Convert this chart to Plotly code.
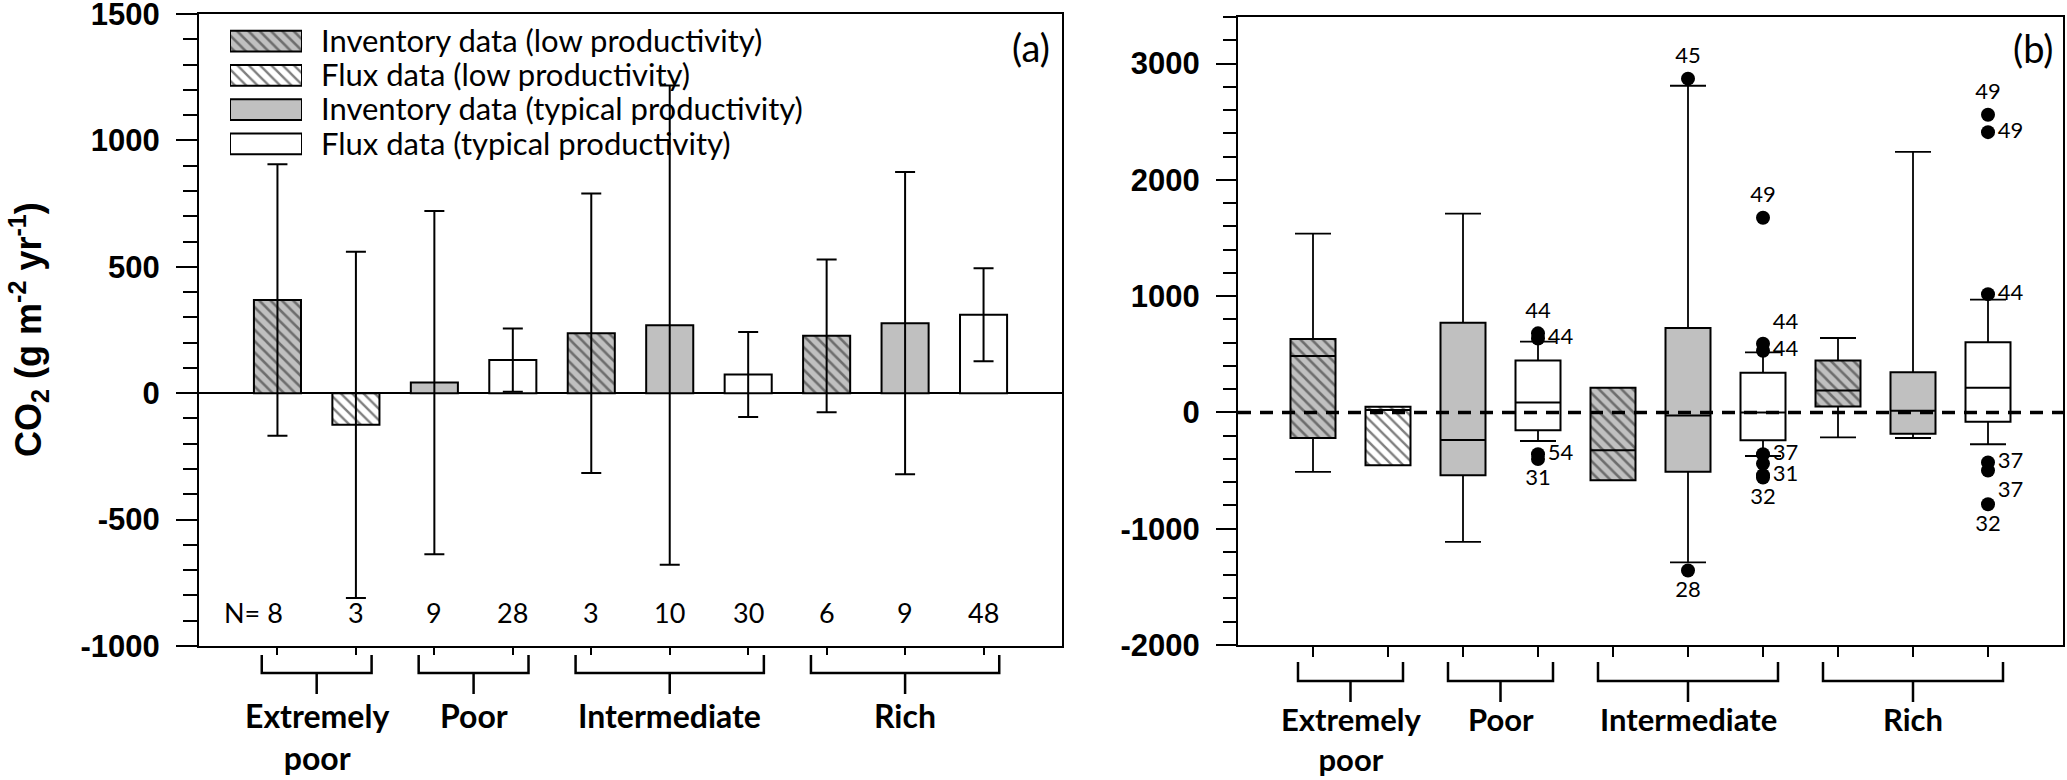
import plotly.graph_objects as go

# ---------------- data ----------------
bar_group = ["Extremely poor", "Extremely poor", "Poor", "Poor",
             "Intermediate", "Intermediate", "Intermediate", "Rich", "Rich", "Rich"]
group_names = ["Extremely poor", "Poor", "Intermediate", "Rich"]
group_labels = ["Extremely<br>poor", "Poor", "Intermediate", "Rich"]
bar_series = ["inv_low", "flux_low", "inv_typ", "flux_typ", "inv_low",
              "inv_typ", "flux_typ", "inv_low", "inv_typ", "flux_typ"]
series_keys = ["inv_low", "flux_low", "inv_typ", "flux_typ"]
series_names = ["Inventory data (low productivity)", "Flux data (low productivity)",
                "Inventory data (typical productivity)", "Flux data (typical productivity)"]

# panel (a): mean and SD
mean_co2 = [369, -125, 42, 131, 237, 269, 74, 227, 277, 310]
sd_co2 = [537, 685, 679, 125, 553, 948, 168, 302, 598, 184]
n_obs = [8, 3, 9, 28, 3, 10, 30, 6, 9, 48]

# panel (b): box plot statistics
box_q1 = [-220, -454, -540, -154, -583, -511, -240, 51, -183, -80]
box_med = [486, 20, -237, 86, -326, -26, 0, 189, 15, 211]
box_q3 = [631, 49, 771, 446, 211, 726, 340, 446, 346, 603]
box_low = [-511, None, -1114, -246, None, -1289, -375, -214, -220, -274]
box_high = [1537, None, 1709, 609, None, 2809, 517, 640, 2240, 969]

# outliers (bar number, value, case label)
out_bar = [4, 4, 4, 4, 6, 6, 7, 7, 7, 7, 7, 7, 7, 10, 10, 10, 10, 10, 10]
out_val = [680, 635, -360, -400, 2870, -1360, 1674, 590, 530, -360, -440, -540, -560,
           2560, 2410, 1017, -430, -500, -790]
out_lab = ["44", "44", "54", "31", "45", "28", "49", "44", "44", "37", "", "31", "32",
           "49", "49", "44", "37", "37", "32"]
out_textpos = ["top center", "middle right", "middle right", "bottom center",
               "top center", "bottom center", "top center", "top right", "middle right",
               "middle right", "middle right", "middle right", "bottom center",
               "top center", "middle right", "middle right", "middle right",
               "bottom right", "bottom center"]

yticks_a = [-1000, -500, 0, 500, 1000, 1500]
yticks_b = [-2000, -1000, 0, 1000, 2000, 3000]

# ---------------- styles ----------------
W, H = 2067, 780
pos = list(range(1, len(mean_co2) + 1))
GREY = "#c0c0c0"
style = {
    "inv_low": dict(color=GREY, pattern=dict(shape="\\", fgcolor="#1a1a1a", size=8,
                                             solidity=0.32, fillmode="overlay")),
    "flux_low": dict(color="white", pattern=dict(shape="\\", fgcolor="#000000", size=8,
                                                 solidity=0.3, fillmode="overlay")),
    "inv_typ": dict(color=GREY),
    "flux_typ": dict(color="white"),
}
LAT = "Lato"
ARB = "Liberation Sans"
BW = 0.6

fig = go.Figure()

# ---------------- panel (a) ----------------
for key in series_keys:
    idx = [i for i, s in enumerate(bar_series) if s == key]
    fig.add_trace(go.Bar(
        x=[pos[i] for i in idx], y=[mean_co2[i] for i in idx], width=BW,
        marker=dict(**style[key], line=dict(color="black", width=2)),
        error_y=dict(type="data", array=[sd_co2[i] for i in idx], symmetric=True,
                     color="black", thickness=2, width=10),
        xaxis="x", yaxis="y", showlegend=False))

# ---------------- panel (b) ----------------
for key in series_keys:
    idx = [i for i, s in enumerate(bar_series) if s == key]
    fig.add_trace(go.Bar(
        x=[pos[i] for i in idx], y=[box_q3[i] - box_q1[i] for i in idx],
        base=[box_q1[i] for i in idx], width=BW,
        marker=dict(**style[key], line=dict(color="black", width=2)),
        xaxis="x2", yaxis="y2", showlegend=False))

# medians
mx, my = [], []
for p, m in zip(pos, box_med):
    mx += [p - BW / 2, p + BW / 2, None]
    my += [m, m, None]
fig.add_trace(go.Scatter(x=mx, y=my, mode="lines", line=dict(color="black", width=2),
                         xaxis="x2", yaxis="y2", showlegend=False))

# whiskers and caps
CAP = 0.24
wx, wy = [], []
for p, q1, q3, lo, hi in zip(pos, box_q1, box_q3, box_low, box_high):
    if hi is not None:
        wx += [p, p, None, p - CAP, p + CAP, None]
        wy += [q3, hi, None, hi, hi, None]
    if lo is not None:
        wx += [p, p, None, p - CAP, p + CAP, None]
        wy += [q1, lo, None, lo, lo, None]
fig.add_trace(go.Scatter(x=wx, y=wy, mode="lines", line=dict(color="black", width=1.8),
                         xaxis="x2", yaxis="y2", showlegend=False))

# outliers
fig.add_trace(go.Scatter(x=out_bar, y=out_val, mode="markers+text", text=out_lab,
                         textposition=out_textpos,
                         marker=dict(color="black", size=14),
                         textfont=dict(family=LAT, size=22, color="black"),
                         xaxis="x2", yaxis="y2", showlegend=False, cliponaxis=False))

# ---------------- legend drawn as bars ----------------
for key, name in zip(series_keys, series_names):
    fig.add_trace(go.Bar(
        x=[1], y=[name], base=[0], orientation="h", width=0.6,
        marker=dict(**style[key], line=dict(color="black", width=2)),
        xaxis="x3", yaxis="y3", showlegend=False))

# ---------------- layout ----------------
def px_x(v):
    return v / W

def px_y(v):
    return (H - v) / H

dom_a = [px_x(199), px_x(1062)]
dom_b = [px_x(1238), px_x(2063)]
ydom_a = [px_y(646), px_y(14)]
ydom_b = [px_y(645), px_y(17)]

tickfont = dict(family=ARB, size=31, color="black", weight="bold")

common_x = dict(range=[0, 11], tickvals=pos, ticktext=[""] * len(pos), showgrid=False,
                zeroline=False, showline=True, linecolor="black", linewidth=2,
                mirror=True, ticks="outside", tickcolor="black", tickwidth=1.5,
                automargin=False)

fig.update_layout(
    template="none",
    width=W, height=H, margin=dict(l=0, r=0, t=0, b=0, pad=0),
    paper_bgcolor="white", plot_bgcolor="white", barmode="overlay",
    xaxis=dict(domain=dom_a, anchor="y", ticklen=7, **common_x),
    yaxis=dict(domain=ydom_a, anchor="x", range=[-1000, 1500], tickvals=yticks_a,
               ticktext=[str(v) for v in yticks_a], tickfont=tickfont,
               ticklabeloverflow="allow", automargin=False,
               showgrid=False, zeroline=True, zerolinecolor="black", zerolinewidth=1.8,
               showline=True, linecolor="black", linewidth=2, mirror=True,
               ticks="outside", ticklen=21, tickwidth=2, tickcolor="black",
               ticklabelstandoff=10,
               minor=dict(tickmode="linear", tick0=0, dtick=100, ticks="outside",
                          ticklen=14, tickwidth=2, tickcolor="black", showgrid=False)),
    xaxis2=dict(domain=dom_b, anchor="y2", ticklen=10, **common_x),
    yaxis2=dict(domain=ydom_b, anchor="x2", range=[-2000, 3400], tickvals=yticks_b,
                ticktext=[str(v) for v in yticks_b], tickfont=tickfont,
                ticklabeloverflow="allow", automargin=False,
                showgrid=False, zeroline=False,
                showline=True, linecolor="black", linewidth=2, mirror=True,
                ticks="outside", ticklen=20, tickwidth=2, tickcolor="black",
                ticklabelstandoff=10,
                minor=dict(tickmode="linear", tick0=0, dtick=200, ticks="outside",
                           ticklen=13, tickwidth=2, tickcolor="black", showgrid=False)),
    xaxis3=dict(domain=[px_x(230), px_x(302)], anchor="y3", range=[0, 1], visible=False,
                fixedrange=True, automargin=False),
    yaxis3=dict(domain=[px_y(161), px_y(24)], anchor="x3", type="category",
                categoryorder="array", categoryarray=series_names, autorange="reversed",
                tickmode="array", tickvals=series_names, ticktext=series_names,
                ticklabeloverflow="allow", automargin=False,
                side="right", showline=False, showgrid=False, zeroline=False, ticks="",
                ticklabelstandoff=18,
                tickfont=dict(family=LAT, size=31, color="black")),
)

# dashed zero line in panel (b)
fig.add_shape(type="line", xref="x2 domain", yref="y2", x0=0, x1=1, y0=0, y1=0,
              line=dict(color="black", width=3.5, dash="13px,9px"))

# group brackets and labels
def add_brackets(xref, ytop, yh, yspike, ylab, fsize):
    for g, lab in zip(group_names, group_labels):
        ps = [p for p, gg in zip(pos, bar_group) if gg == g]
        x0, x1 = min(ps) - 0.2, max(ps) + 0.2
        xc = (min(ps) + max(ps)) / 2
        path = (f"M {x0},{ytop} L {x0},{yh} L {x1},{yh} L {x1},{ytop} "
                f"M {xc},{yh} L {xc},{yspike}")
        fig.add_shape(type="path", path=path, xref=xref, yref="paper",
                      line=dict(color="black", width=2.5))
        fig.add_annotation(x=xc, y=ylab, xref=xref, yref="paper", text=lab,
                           showarrow=False, yanchor="top", xanchor="center",
                           font=dict(family=LAT, size=fsize, color="black", weight="bold"))

add_brackets("x", px_y(655), px_y(673), px_y(694), px_y(694), 32)
add_brackets("x2", px_y(662), px_y(681), px_y(702), px_y(698), 31)

# N labels
for i, (p, n) in enumerate(zip(pos, n_obs)):
    if i == 0:
        fig.add_annotation(x=p, y=px_y(612), xref="x", yref="paper", text=f"N= {n}",
                           showarrow=False, xanchor="right", yanchor="middle", xshift=8,
                           font=dict(family=LAT, size=27, color="black"))
    else:
        fig.add_annotation(x=p, y=px_y(612), xref="x", yref="paper", text=str(n),
                           showarrow=False, xanchor="center", yanchor="middle",
                           font=dict(family=LAT, size=27, color="black"))

# panel letters
fig.add_annotation(x=px_x(1052), y=px_y(47), xref="paper", yref="paper", text="(a)",
                   showarrow=False, xanchor="right", yanchor="middle",
                   font=dict(family=LAT, size=38, color="black"))
fig.add_annotation(x=px_x(2055), y=px_y(48), xref="paper", yref="paper", text="(b)",
                   showarrow=False, xanchor="right", yanchor="middle",
                   font=dict(family=LAT, size=38, color="black"))

# y axis title
fig.add_annotation(x=px_x(28), y=px_y(330), xref="paper", yref="paper",
                   text="CO<sub>2</sub> (g m<sup>-2</sup> yr<sup>-1</sup>)",
                   textangle=-90, showarrow=False, xanchor="center", yanchor="middle",
                   font=dict(family=ARB, size=36, color="black", weight="bold"))

fig.write_html("out.html",
               config={"displayModeBar": False},
               post_script="document.body.style.margin='0';"
                           "document.body.style.overflow='hidden';")
